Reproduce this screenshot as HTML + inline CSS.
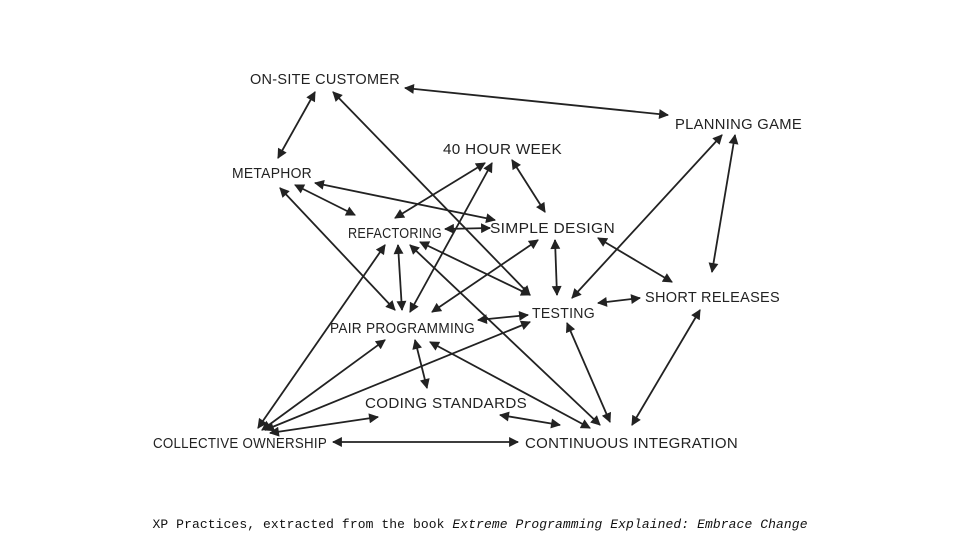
<!DOCTYPE html>
<html><head><meta charset="utf-8"><style>
body{margin:0;background:#fff;}
svg{display:block;}
.lbl{font-family:"Liberation Sans",sans-serif;font-size:15px;fill:#222;letter-spacing:0.3px;}
.cap{font-family:"Liberation Mono",monospace;font-size:13px;fill:#111;}
</style></head><body>
<svg id="chart" width="960" height="540" viewBox="0 0 960 540">
<defs><marker id="ah" viewBox="0 0 10 10" refX="9" refY="5" markerWidth="7" markerHeight="5.5" orient="auto-start-reverse"><path d="M0,0 L10,5 L0,10 z" fill="#222"/></marker></defs>
<g id="edges"></g><g id="labels"></g>
<text class="cap" x="480" y="528" text-anchor="middle" textLength="655" lengthAdjust="spacing">XP Practices, extracted from the book <tspan font-style="italic">Extreme Programming Explained: Embrace Change</tspan></text>
</svg>
<script>
const labels = ["On-site Customer","Planning Game","40 Hour Week","Metaphor","Refactoring","Simple Design","Testing","Short Releases","Pair Programming","Coding Standards","Collective Ownership","Continuous Integration"];
const labelX = [250,675,443,232,348,490,532,645,330,365,153,525];
const labelY = [84,129,154,178,238,233,318,302,333,408,448,448];
const labelW = [150,127,119,80,94,125,63,135,145,162,174,213];
const edges = [
[405,88,668,115],[315,92,278,158],[333,92,530,295],[315,183,495,220],[295,185,355,215],
[280,188,395,310],[485,163,395,218],[492,163,410,312],[512,160,545,212],[445,229,490,228],
[420,242,530,295],[398,245,402,310],[385,245,258,428],[410,245,600,425],[555,240,557,295],
[598,238,672,282],[538,240,432,312],[722,135,572,298],[735,135,712,272],[598,303,640,298],
[528,315,478,320],[567,323,610,422],[530,322,265,430],[385,340,262,430],[415,340,427,388],
[430,342,590,428],[378,417,270,433],[500,415,560,425],[333,442,518,442],[700,310,632,425]];
const NS="http://www.w3.org/2000/svg";
const eg=document.getElementById('edges'), lg=document.getElementById('labels');
edges.forEach((e,i)=>{
 const l=document.createElementNS(NS,'line');
 l.setAttribute('x1',e[0]);l.setAttribute('y1',e[1]);l.setAttribute('x2',e[2]);l.setAttribute('y2',e[3]);
 l.setAttribute('stroke','#222');l.setAttribute('stroke-width','1.8');
 l.setAttribute('marker-start','url(#ah)');l.setAttribute('marker-end','url(#ah)');
 
 
 eg.appendChild(l);
});
labels.forEach((t,i)=>{
 const tx=document.createElementNS(NS,'text');
 tx.setAttribute('x',labelX[i]);tx.setAttribute('y',labelY[i]);
 tx.setAttribute('class','lbl');
 tx.setAttribute('textLength',labelW[i]);tx.setAttribute('lengthAdjust','spacingAndGlyphs');
 tx.textContent=t.toUpperCase();
 
 
 lg.appendChild(tx);
});
</script>
</body></html>
